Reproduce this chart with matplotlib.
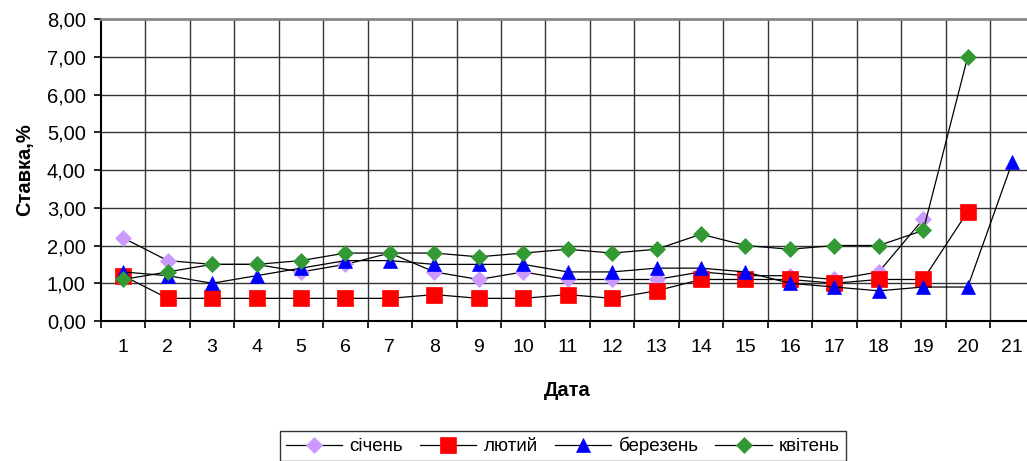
import numpy as np
import matplotlib
matplotlib.use('Agg')
import matplotlib.pyplot as plt
from matplotlib.ticker import FuncFormatter, MultipleLocator

plt.rcParams['font.family'] = ['Liberation Sans', 'DejaVu Sans']

dates = np.arange(1, 22)
sichen = [2.2, 1.6, 1.5, 1.5, 1.3, 1.5, 1.8, 1.3, 1.1, 1.3, 1.1, 1.1, 1.1, 1.3, 1.2,
          1.2, 1.1, 1.3, 2.7, np.nan, np.nan]
lyutyi = [1.2, 0.6, 0.6, 0.6, 0.6, 0.6, 0.6, 0.7, 0.6, 0.6, 0.7, 0.6, 0.8, 1.1, 1.1,
          1.1, 1.0, 1.1, 1.1, 2.9, np.nan]
berezen = [1.3, 1.2, 1.0, 1.2, 1.4, 1.6, 1.6, 1.5, 1.5, 1.5, 1.3, 1.3, 1.4, 1.4, 1.3,
           1.0, 0.9, 0.8, 0.9, 0.9, 4.2]
kviten = [1.1, 1.3, 1.5, 1.5, 1.6, 1.8, 1.8, 1.8, 1.7, 1.8, 1.9, 1.8, 1.9, 2.3, 2.0,
          1.9, 2.0, 2.0, 2.4, 7.0, np.nan]

series = [
    ('січень', sichen, 'D', '#CC99FF', 8),
    ('лютий', lyutyi, 's', '#FF0000', 11),
    ('березень', berezen, '^', '#0000FF', 10.5),
    ('квітень', kviten, 'D', '#339933', 8),
]

fig = plt.figure(figsize=(10.27, 4.61), dpi=100)
ax = fig.add_axes([101 / 1027, 1 - 321 / 461, 933.4 / 1027, 302 / 461])

for name, vals, m, c, ms in series:
    ax.plot(dates, vals, color='black', lw=0.9, marker=m, markersize=ms,
            markerfacecolor=c, markeredgecolor=c, markeredgewidth=0.5, label=name)

ax.set_xlim(0.5, 21.5)
ax.set_ylim(0, 8)
ax.yaxis.set_major_locator(MultipleLocator(1))
ax.yaxis.set_major_formatter(FuncFormatter(lambda v, p: f'{v:.2f}'.replace('.', ',')))
ax.set_xticks(dates)
ax.set_xticks(np.arange(0.5, 22, 1), minor=True)
ax.tick_params(axis='x', which='major', length=0, pad=13, labelsize=14)
ax.tick_params(axis='x', which='minor', length=5, width=1.2, color='black')
ax.tick_params(axis='y', length=5, width=1.2, labelsize=14.5, pad=6)

ax.grid(True, axis='y', color='#333333', lw=1)
for x in np.arange(1.5, 21.5, 1):
    ax.axvline(x, color='#333333', lw=1, zorder=0.5)
ax.set_axisbelow(True)

ax.spines['right'].set_visible(False)
ax.spines['top'].set_color('#888888')
ax.spines['top'].set_linewidth(2)
ax.spines['left'].set_linewidth(1.5)
ax.spines['bottom'].set_linewidth(1.5)

ax.set_xlabel('Дата', fontsize=14.5, fontweight='bold', labelpad=18)
ax.set_ylabel('Ставка,%', fontsize=14.5, fontweight='bold', labelpad=9)

leg = fig.legend(loc='center', bbox_to_anchor=(563 / 1027, 1 - 446 / 461), ncol=4,
                 frameon=True, fancybox=False, edgecolor='black', fontsize=13.5,
                 handlelength=3, columnspacing=0.9, handletextpad=0.4,
                 borderpad=0.3)
leg.get_frame().set_linewidth(1)

fig.savefig('out.png', dpi=100)
